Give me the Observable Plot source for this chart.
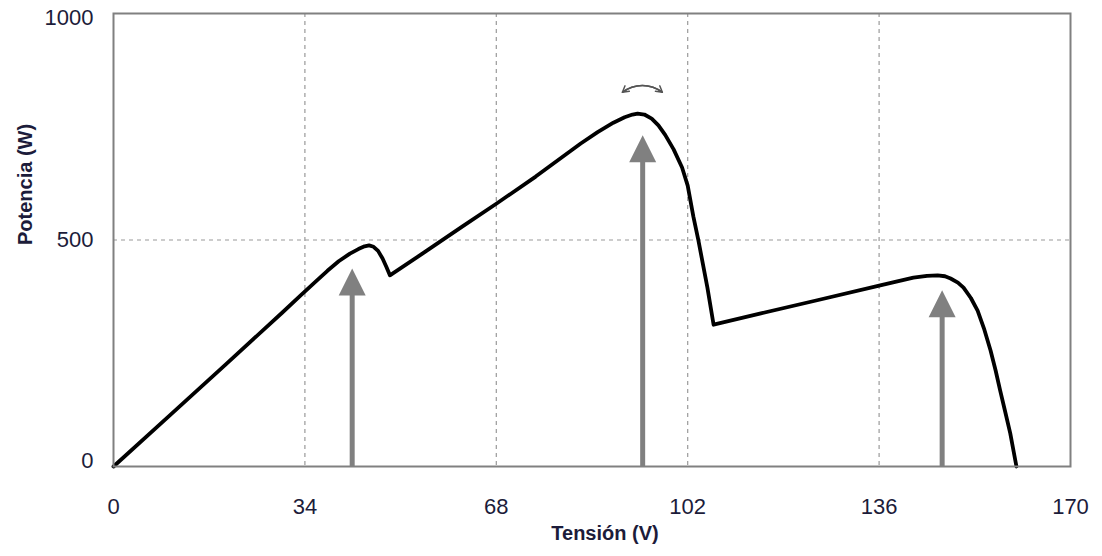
<!DOCTYPE html>
<html>
<head>
<meta charset="utf-8">
<script src="https://cdn.jsdelivr.net/npm/d3@7"></script>
<script src="https://cdn.jsdelivr.net/npm/@observablehq/plot@0.6"></script>
<style>
  html, body { margin: 0; padding: 0; background: #fff; }
</style>
</head>
<body>
<div id="chart"></div>
<script>
// Curve: voltage (V) and power (W)
const voltage = [0, 10, 20, 30, 33.2, 36, 38, 40, 42, 43.5, 44.6, 45.4, 46.2, 47, 47.8, 48.5, 49.1,
  55, 62, 68, 75, 83, 86, 88.8, 90.8, 92.2, 93.1, 94.3, 95.6, 96.8, 98, 99.5, 101, 102, 103, 103.9, 105.5, 106.6,
  115, 125, 136.2, 140, 142.1, 144.5, 146.4, 147.7, 148.7, 150, 151, 152.3, 153.5, 154.7, 155.8, 156.7, 157.5, 158.4, 159.3, 160.4];
const power = [0, 113, 226, 340, 377, 409, 432, 453, 470, 480, 486, 488, 485, 476, 459, 440, 422,
  471, 530, 580, 640, 713, 738, 759, 771, 777, 779, 777, 768, 753, 732, 700, 660, 620, 552, 499, 395, 313,
  338, 367, 400, 411, 417, 421, 422, 420, 415, 406, 395, 372, 344, 302, 256, 212, 168, 121, 73, 0];

// Vertical gray arrows (position V, tip height W)
const arrowV = [42.4, 94.0, 147.2];
const arrowP = [437, 731, 389];

// Small curved double arrow above the global peak
const swingV = [90.4, 97.5];
const swingP = [826, 826];

// Axes
const xTicks = [0, 34, 68, 102, 136, 170];
const yTicks = [0, 500, 1000];
const xGrid = [34, 68, 102, 136];
const yGrid = [500];

const curve = voltage.map((v, i) => ({v, p: power[i]}));
const arrows = arrowV.map((v, i) => ({v, p: arrowP[i], base: 0}));
const swing = [{x1: swingV[0], y1: swingP[0], x2: swingV[1], y2: swingP[1]}];

const gray = "#808080";
const textColor = "#1c1c3a";

const tipSymbol = {
  draw(context, size) {
    const r = Math.sqrt(size / Math.PI);
    context.moveTo(0, 0);
    context.lineTo(r, 2 * r);
    context.lineTo(-r, 2 * r);
    context.closePath();
  }
};

const fmt = d => String(d);

const chart = Plot.plot({
  width: 1102,
  height: 556,
  marginLeft: 113,
  marginRight: 32,
  marginTop: 13,
  marginBottom: 90,
  style: {fontFamily: "'Liberation Sans', Arial, sans-serif", fontSize: "22px", color: textColor, background: "#fff"},
  x: {domain: [0, 170]},
  y: {domain: [0, 1000]},
  marks: [
    Plot.ruleX(xGrid, {stroke: "#9a9a9a", strokeWidth: 1.2, strokeDasharray: "4,4"}),
    Plot.ruleY(yGrid, {stroke: "#9a9a9a", strokeWidth: 1.2, strokeDasharray: "4,4"}),
    Plot.ruleX(arrows, {x: "v", y1: "p", y2: "base", stroke: gray, strokeWidth: 5, insetTop: 20}),
    Plot.dot(arrows, {x: "v", y: "p", symbol: tipSymbol, r: 13.5, fill: gray, stroke: "none"}),
    Plot.line(curve, {x: "v", y: "p", stroke: "#000", strokeWidth: 3.8, strokeLinejoin: "round"}),
    Plot.arrow(swing, {x1: "x1", y1: "y1", x2: "x2", y2: "y2", bend: 38, headLength: 7, stroke: "#555", strokeWidth: 1.5}),
    Plot.arrow(swing, {x1: "x2", y1: "y2", x2: "x1", y2: "y1", bend: -38, headLength: 7, stroke: "#555", strokeWidth: 1.5}),
    Plot.frame({stroke: gray, strokeWidth: 2}),
    Plot.axisX({ticks: xTicks, tickSize: 0, tickPadding: 32, label: null, fill: textColor, tickFormat: fmt}),
    Plot.axisY({ticks: [yTicks[1]], tickSize: 0, tickPadding: 20, label: null, fill: textColor, tickFormat: fmt}),
    Plot.axisY({ticks: [yTicks[2]], tickSize: 0, tickPadding: 20, label: null, fill: textColor, dy: 4, tickFormat: fmt}),
    Plot.axisY({ticks: [yTicks[0]], tickSize: 0, tickPadding: 20, label: null, fill: textColor, dy: -6, tickFormat: fmt}),
    Plot.text(["Tensión (V)"], {frameAnchor: "bottom", text: d => d, dx: 13, dy: 73, fontWeight: "bold", fontSize: 20, fill: textColor}),
    Plot.text(["Potencia (W)"], {frameAnchor: "left", text: d => d, rotate: -90, dx: -88, dy: 5, fontWeight: "bold", fontSize: 20, fill: textColor})
  ]
});
document.getElementById("chart").appendChild(chart);
</script>
</body>
</html>
